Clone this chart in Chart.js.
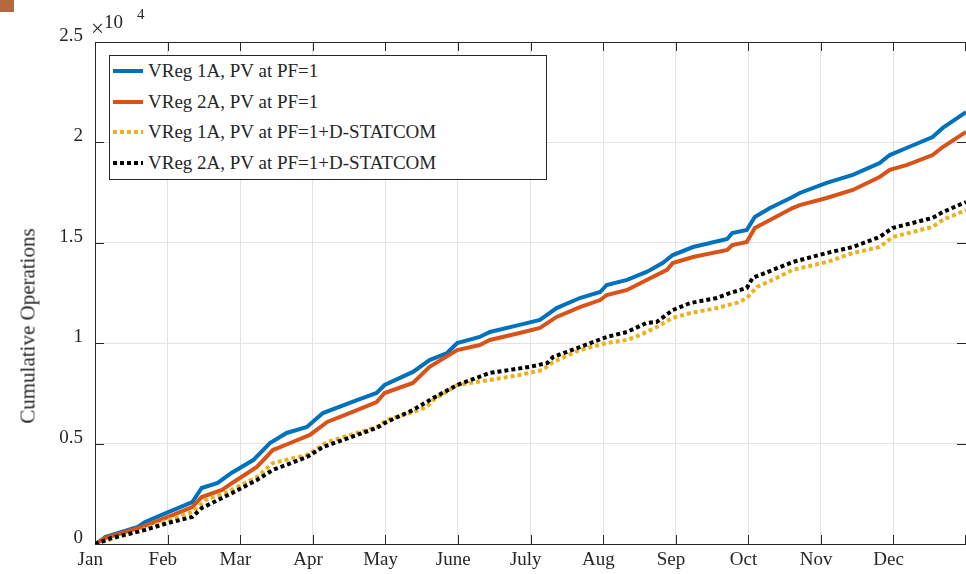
<!DOCTYPE html>
<html>
<head>
<meta charset="utf-8">
<title>Cumulative Operations</title>
<script src="https://cdn.jsdelivr.net/npm/chart.js@4.4.0/dist/chart.umd.min.js"></script>
<style>
  html, body { margin: 0; padding: 0; background: #fff; }
  #wrap { position: relative; width: 966px; height: 574px; overflow: hidden;
          font-family: "Liberation Serif", "Times New Roman", serif; color: #262626; }
  #chart1 { position: absolute; left: 0; top: 0; }
  .corner { position: absolute; left: 0; top: 0; width: 14px; height: 12px; background: #b4683e; }
  .ytitle { position: absolute; left: 28px; top: 326px; font-size: 21px; white-space: nowrap;
            transform: translate(-50%, -50%) rotate(-90deg); }
  .expo { position: absolute; line-height: 1; white-space: nowrap; }
  .legend { position: absolute; left: 109px; top: 55px; width: 436px; height: 123px;
            border: 1px solid #262626; background: #fff; }
  .legend .row { height: 30.5px; display: flex; align-items: center; font-size: 19px; white-space: nowrap; }
  .legend svg { margin-left: 3px; margin-right: 5px; }
</style>
</head>
<body>
<div id="wrap">
  <canvas id="chart1" width="966" height="574"></canvas>
  <div class="corner"></div>
  <div class="ytitle">Cumulative Operations</div>
  <span class="expo" style="left:91px; top:17px; font-size:23px;">&times;</span>
  <span class="expo" style="left:104px; top:12px; font-size:19px;">10</span>
  <span class="expo" style="left:137px; top:7px; font-size:15px;">4</span>
  <div class="legend" id="legend"></div>
</div>
<script>
// month labels on the x axis (one tick per month, 0 = Jan 1)
var monthNames = ['Jan', 'Feb', 'Mar', 'Apr', 'May', 'June', 'July', 'Aug', 'Sep', 'Oct', 'Nov', 'Dec'];
var seriesNames = [
  'VReg 1A, PV at PF=1',
  'VReg 2A, PV at PF=1',
  'VReg 1A, PV at PF=1+D-STATCOM',
  'VReg 2A, PV at PF=1+D-STATCOM'
];

// VReg 1A, PV at PF=1
var blueMonths = [0, 0.11, 0.14, 0.59, 0.69, 1.01, 1.34, 1.47, 1.69, 1.88, 2.18, 2.41, 2.64, 2.92, 3.14, 3.61, 3.88, 3.99, 4.38, 4.61,
  4.85, 4.99, 5.30, 5.44, 5.85, 6.13, 6.36, 6.68, 6.96, 7.05, 7.33, 7.60, 7.82, 7.96, 8.24, 8.71, 8.78, 8.98, 9.09, 9.30,
  9.61, 9.71, 10.08, 10.44, 10.81, 10.95, 11.18, 11.54, 11.68, 12];
var blueOps = [0, 250, 350, 850, 1100, 1590, 2090, 2790, 3040, 3540, 4180, 5030, 5530, 5830, 6520, 7170, 7520, 7920, 8570, 9160,
  9510, 10010, 10310, 10560, 10910, 11160, 11750, 12250, 12550, 12900, 13150, 13550, 13990, 14390, 14790, 15190, 15490, 15640, 16290, 16730,
  17280, 17480, 17980, 18380, 18970, 19370, 19720, 20270, 20720, 21510];

// VReg 2A, PV at PF=1
var orangeMonths = [0, 0.14, 0.65, 1.01, 1.34, 1.47, 1.75, 1.89, 2.23, 2.45, 2.69, 2.96, 3.20, 3.61, 3.88, 3.99, 4.38, 4.61, 4.99, 5.30,
  5.44, 5.85, 6.13, 6.36, 6.68, 6.96, 7.05, 7.33, 7.60, 7.88, 7.96, 8.24, 8.71, 8.78, 8.98, 9.09, 9.30, 9.61, 9.71, 10.08,
  10.44, 10.81, 10.95, 11.18, 11.54, 11.68, 12];
var orangeOps = [0, 300, 850, 1350, 1840, 2340, 2690, 3040, 3840, 4680, 5030, 5430, 6080, 6670, 7070, 7520, 8020, 8820, 9660, 9910,
  10160, 10510, 10760, 11310, 11800, 12150, 12400, 12650, 13150, 13650, 13990, 14290, 14640, 14890, 15040, 15740, 16140, 16730, 16880, 17230,
  17630, 18280, 18630, 18870, 19370, 19770, 20520];

// VReg 1A, PV at PF=1+D-STATCOM
var yellowMonths = [0, 0.65, 1.01, 1.34, 1.52, 1.83, 2.23, 2.45, 2.92, 3.20, 3.61, 3.88, 4.02, 4.38, 4.57, 4.66, 4.99, 5.44, 5.85, 6.17,
  6.31, 6.68, 7.05, 7.33, 7.51, 7.74, 7.96, 8.20, 8.57, 8.88, 8.98, 9.12, 9.39, 9.61, 10.08, 10.44, 10.81, 10.99, 11.54, 11.68, 12];
var yellowOps = [0, 700, 1200, 1590, 2190, 2590, 3340, 4030, 4430, 5080, 5530, 5830, 6180, 6570, 6820, 7170, 7920, 8170, 8420, 8670,
  9060, 9660, 10010, 10160, 10410, 10810, 11260, 11500, 11750, 12050, 12250, 12800, 13250, 13650, 14040, 14490, 14790, 15290, 15790, 16140, 16630];

// VReg 2A, PV at PF=1+D-STATCOM
var blackMonths = [0, 0.23, 0.69, 1.01, 1.34, 1.47, 1.75, 1.89, 2.23, 2.45, 2.92, 3.14, 3.61, 3.88, 4.02, 4.38, 4.66, 4.99, 5.44, 5.99,
  6.23, 6.31, 6.68, 7.05, 7.33, 7.60, 7.74, 7.96, 8.20, 8.57, 8.75, 8.98, 9.06, 9.34, 9.61, 10.08, 10.44, 10.81, 10.99, 11.54, 11.68, 12];
var blackOps = [0, 300, 700, 1050, 1350, 1790, 2290, 2540, 3190, 3690, 4330, 4830, 5430, 5780, 6080, 6670, 7270, 7920, 8520, 8820,
  9010, 9310, 9810, 10310, 10560, 11010, 11060, 11650, 12000, 12250, 12500, 12750, 13250, 13650, 14040, 14490, 14790, 15290, 15740, 16240, 16530, 17030];

function pairs(xs, ys) {
  return xs.map(function(v, i) { return {x: v, y: ys[i]}; });
}

var colors = ['#0072BD', '#D95319', '#EDB120', '#000000'];
var dashes = [[], [], [4, 3], [4, 3]];
var axisColor = '#262626';
var serif = '"Liberation Serif", "Times New Roman", serif';

// legend (html, drawn over the chart area like the MATLAB box)
var legendBox = document.getElementById('legend');
seriesNames.forEach(function(name, i) {
  var row = document.createElement('div');
  row.className = 'row';
  var dash = dashes[i].length ? ' stroke-dasharray="4 3"' : '';
  row.innerHTML = '<svg width="30" height="6"><line x1="0" y1="3" x2="30" y2="3" stroke="' + colors[i] +
    '" stroke-width="4"' + dash + '/></svg><span>' + name + '</span>';
  legendBox.appendChild(row);
});

// inward tick marks + top frame line
var axisBox = {
  id: 'axisBox',
  beforeDatasetsDraw: function(chart) {
    var ctx = chart.ctx, a = chart.chartArea, x = chart.scales.x, y = chart.scales.y;
    ctx.save();
    ctx.strokeStyle = axisColor;
    ctx.lineWidth = 1;
    ctx.beginPath();
    ctx.moveTo(a.left, a.top + 0.5);
    ctx.lineTo(a.right, a.top + 0.5);
    x.ticks.forEach(function(t) {
      var px = Math.round(x.getPixelForValue(t.value)) + 0.5;
      if (px > a.right) px = a.right - 0.5;
      ctx.moveTo(px, a.bottom); ctx.lineTo(px, a.bottom - 9);
      ctx.moveTo(px, a.top); ctx.lineTo(px, a.top + 9);
    });
    y.ticks.forEach(function(t) {
      var py = Math.round(y.getPixelForValue(t.value)) + 0.5;
      ctx.moveTo(a.left, py); ctx.lineTo(a.left + 9, py);
      ctx.moveTo(a.right, py); ctx.lineTo(a.right - 9, py);
    });
    ctx.stroke();
    ctx.restore();
  }
};

var ctx = document.getElementById('chart1').getContext('2d');
var myChart = new Chart(ctx, {
  type: 'line',
  data: {
    datasets: [
      { label: seriesNames[0], data: pairs(blueMonths, blueOps), borderColor: colors[0], order: 3 },
      { label: seriesNames[1], data: pairs(orangeMonths, orangeOps), borderColor: colors[1], order: 2 },
      { label: seriesNames[2], data: pairs(yellowMonths, yellowOps), borderColor: colors[2], borderDash: dashes[2], order: 1 },
      { label: seriesNames[3], data: pairs(blackMonths, blackOps), borderColor: colors[3], borderDash: dashes[3], order: 0 }
    ]
  },
  options: {
    responsive: false,
    animation: false,
    devicePixelRatio: 1,
    layout: { padding: { top: 42, right: 0, bottom: 0, left: 0 } },
    elements: {
      line: { borderWidth: 4, tension: 0, fill: false, borderCapStyle: 'butt' },
      point: { radius: 0, hoverRadius: 0 }
    },
    plugins: {
      legend: { display: false },
      tooltip: { enabled: false }
    },
    scales: {
      x: {
        type: 'linear',
        min: 0,
        max: 12,
        afterFit: function(scale) {
          scale.height = 30;
          scale.paddingLeft = 0;
          scale.paddingRight = 0;
        },
        ticks: {
          stepSize: 1,
          autoSkip: false,
          maxRotation: 0,
          padding: 5,
          color: axisColor,
          font: { family: serif, size: 19 },
          callback: function(v) { return monthNames[v] ? monthNames[v] + '  ' : ''; }
        },
        grid: { color: '#e3e3e3', drawTicks: false },
        border: { color: axisColor, width: 1 }
      },
      y: {
        min: 0,
        max: 25000,
        afterFit: function(scale) {
          scale.width = 95;
          scale.paddingTop = 0;
          scale.paddingBottom = 0;
        },
        ticks: {
          stepSize: 5000,
          padding: 12,
          color: axisColor,
          font: { family: serif, size: 19, lineHeight: '12px' },
          // second empty line lifts the label a few px, like the original
          callback: function(v) { return [String(v / 10000), '']; }
        },
        grid: { color: '#e3e3e3', drawTicks: false },
        border: { color: axisColor, width: 1 }
      }
    }
  },
  plugins: [axisBox]
});
</script>
</body>
</html>
